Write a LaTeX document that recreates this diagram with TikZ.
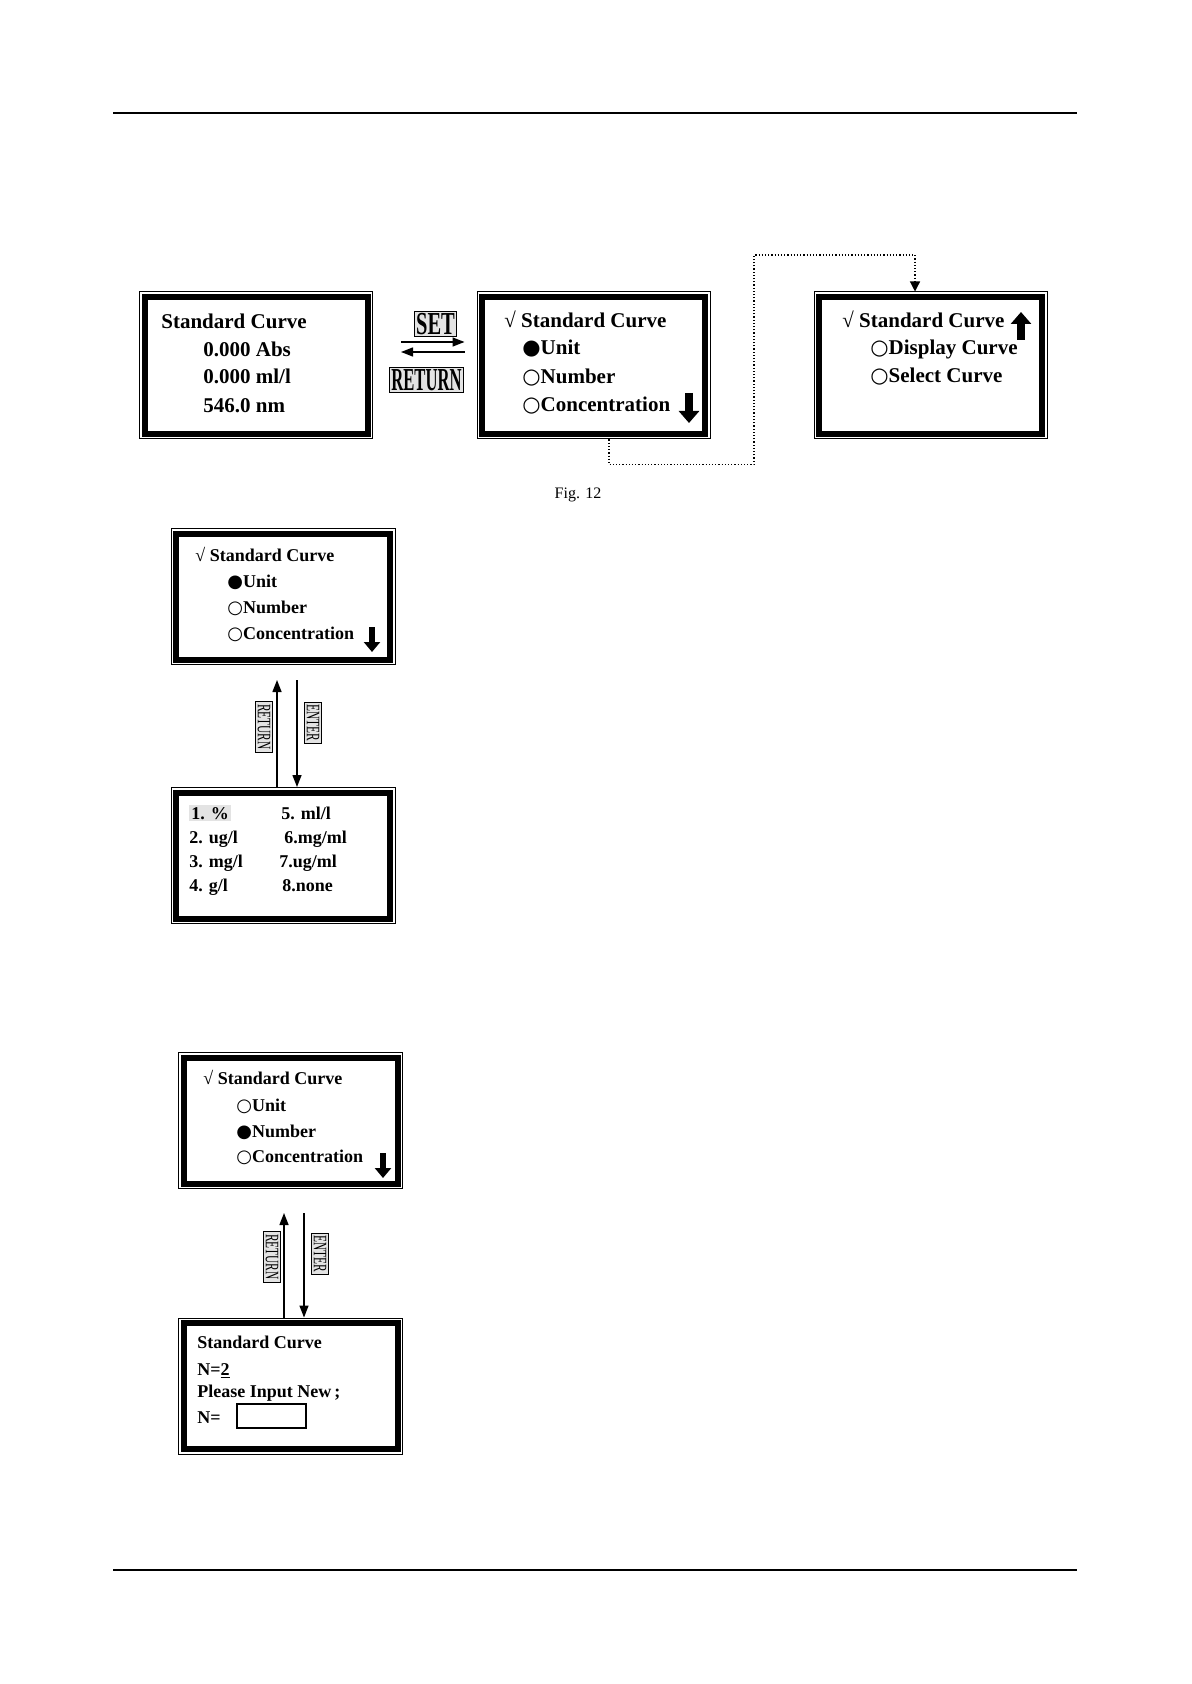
\documentclass[tikz,border=0pt]{standalone}
\usepackage{fontspec}
\setmainfont{Liberation Serif}
\newfontfamily\glyphs{DejaVu Sans}
\usepackage{graphicx}
\usetikzlibrary{arrows.meta,positioning,calc}
\newcommand\onmark{{\glyphs ●}}
\newcommand\offmark{{\glyphs ○}}
\tikzset{
  screen/.style     = {draw, line width=0.5pt, inner sep=0pt, minimum width=116.5pt, minimum height=73.5pt},
  minor/.style      = {screen, minimum width=112pt, minimum height=68pt},
  rim/.style        = {line width=3pt},
  big/.style        = {font=\bfseries\fontsize{10.5}{12}\selectfont, anchor=base west, inner sep=0pt},
  small/.style      = {font=\bfseries\fontsize{9}{11}\selectfont, anchor=base west, inner sep=0pt},
  sig/.style        = {-{Triangle[length=6pt,width=4.5pt]}, line width=0.7pt},
  link/.style       = {densely dotted, line width=0.6pt, -{Triangle[length=5pt,width=5pt]}},
  key/.style        = {draw, line width=0.4pt, fill=gray!22, inner sep=1pt,
                       font=\bfseries\fontsize{16}{16}\selectfont},
  vkey/.style       = {draw, line width=0.4pt, fill=gray!22, inner sep=1.2pt, rotate=-90,
                       font=\fontsize{9.5}{9.5}\selectfont},
  scroll/.style     = {line width=4pt, -{Triangle[length=6pt,width=10pt]}},
  scrollsm/.style   = {line width=3pt, -{Triangle[length=5pt,width=8pt]}},
  rule/.style       = {line width=0.6pt},
}

\begin{document}
\begin{tikzpicture}[x=0.5pt,y=-0.5pt]
  \useasboundingbox (0,0) rectangle (1191,1684);
  % page rules
  \draw[rule] (113,113) -- (1077,113);
  \draw[rule] (113,1570) -- (1077,1570);
  % first row: main screen, menu, second menu page
  \node[screen] (s1) at (256,365.5) {};
  \node[screen] (s2) at (593.5,365.5) {};
  \node[screen] (s3) at (930.5,365.5) {};
  \node[big] (t1a) at (161,329) {Standard Curve};
  \node[big] (t1b) at (203,357) {0.000 Abs};
  \node[big] (t1c) at (203,384) {0.000 ml/l};
  \node[big] (t1d) at (203,413) {546.0 nm};
  \node[big] (t2a) at (504,328) {√ Standard Curve};
  \node[big] (t2b) at (522,355) {\onmark Unit};
  \node[big] (t2c) at (522,384) {\offmark Number};
  \node[big] (t2d) at (522,412) {\offmark Concentration};
  \draw[scroll] (689,393) -- (689,423);
  \node[big] (t3a) at (842,328) {√ Standard Curve};
  \node[big] (t3b) at (870,355) {\offmark Display Curve};
  \node[big] (t3c) at (870,383) {\offmark Select Curve};
  \draw[scroll] (1021,340) -- (1021,312);
  % SET / RETURN between the first two screens
  \node[key] (set) at (435.5,324) {\scalebox{0.64}[1]{SET}};
  \node[key] (ret) at (426.5,380) {\scalebox{0.52}[1]{RETURN}};
  \draw[sig] ([shift={(14pt,11.75pt)}]s1.east) -- ([shift={(-6pt,11.75pt)}]s2.west);
  \draw[sig] ([shift={(-6pt,6.75pt)}]s2.west) -- ([shift={(14pt,6.75pt)}]s1.east);
  % scrolling on to the next page
  \coordinate (hop) at (754,255);
  \draw[link] ([xshift=7.75pt]s2.south) -- ++(0,25) -| (hop) -| ([xshift=-7.75pt]s3.north);
  \node[font=\fontsize{8}{9}\selectfont, anchor=base] (fig) at (578,498) {Fig. 12};
  % unit selection
  \node[minor] (s4) at (283,596.5) {};
  \node[minor] (s5) at (283,855.5) {};
  \node[small] (t4a) at (195,561) {√ Standard Curve};
  \node[small] (t4b) at (227,587) {\onmark Unit};
  \node[small] (t4c) at (227,613) {\offmark Number};
  \node[small] (t4d) at (227,639) {\offmark Concentration};
  \draw[scrollsm] (372,627) -- (372,652);
  \node[small, fill=gray!22, inner sep=1pt] (u1) at (189,819) {1. \%};
  \node[small] (u5) at (281,819) {5. ml/l};
  \node[small] (u2) at (189,843) {2. ug/l};
  \node[small] (u6) at (284,843) {6.mg/ml};
  \node[small] (u3) at (189,867) {3. mg/l};
  \node[small] (u7) at (279,867) {7.ug/ml};
  \node[small] (u4) at (189,891) {4. g/l};
  \node[small] (u8) at (282,891) {8.none};
  \draw[sig] ([xshift=-3pt]s5.north) -- ([shift={(-3pt,-7.5pt)}]s4.south);
  \draw[sig] ([shift={(7pt,-7.5pt)}]s4.south) -- ([xshift=7pt]s5.north);
  \node[vkey] (ret4) at (264,727) {\scalebox{0.6}[1]{RETURN}};
  \node[vkey] (ent4) at (313,723) {\scalebox{0.6}[1]{ENTER}};
  % number of standards
  \node[minor] (s6) at (290.5,1120.5) {};
  \node[minor] (s7) at (290.5,1386) {};
  \node[small] (t6a) at (203,1084) {√ Standard Curve};
  \node[small] (t6b) at (236,1111) {\offmark Unit};
  \node[small] (t6c) at (236,1137) {\onmark Number};
  \node[small] (t6d) at (236,1162) {\offmark Concentration};
  \draw[scrollsm] (383,1153) -- (383,1178);
  \node[small] (t7a) at (197,1348) {Standard Curve};
  \node[small] (t7b) at (197,1375) {N=\underline{2}};
  \node[small] (t7c) at (197,1397) {Please Input New\,;};
  \node[small] (t7d) at (197,1423) {N=};
  \node[draw, line width=0.8pt, minimum width=34.5pt, minimum height=12pt] (field) at (271.5,1416) {};
  \draw[sig] ([xshift=-3.25pt]s7.north) -- ([shift={(-3.25pt,-12pt)}]s6.south);
  \draw[sig] ([shift={(6.75pt,-12pt)}]s6.south) -- ([xshift=6.75pt]s7.north);
  \node[vkey] (ret6) at (272,1257) {\scalebox{0.6}[1]{RETURN}};
  \node[vkey] (ent6) at (320,1254) {\scalebox{0.6}[1]{ENTER}};
  % heavy inner frame of every screen
  \foreach \i in {1,...,7}
    \draw[rim] ([shift={(2.75pt,-2.75pt)}]s\i.north west) rectangle ([shift={(-2.75pt,2.75pt)}]s\i.south east);
\end{tikzpicture}
\end{document}
